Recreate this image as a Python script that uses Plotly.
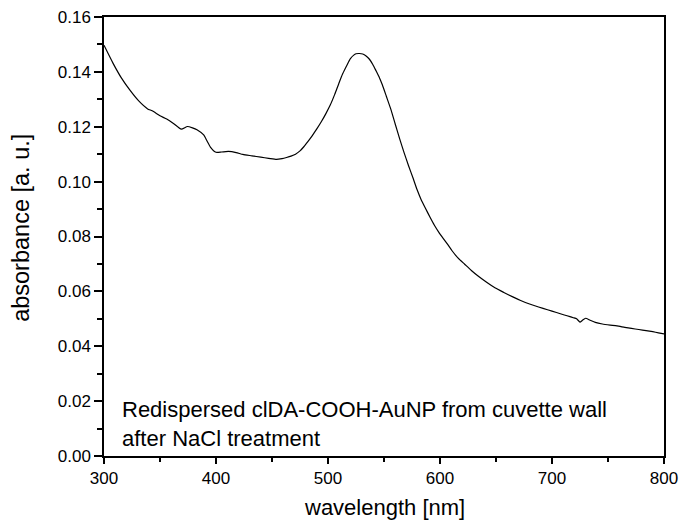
import plotly.graph_objects as go

wavelength = [300, 308, 315.5, 323, 331, 339, 343, 350, 356, 362, 369, 374.5, 379, 383, 389, 392, 395, 400,
              405, 411, 418, 424, 432, 440, 447, 454, 459, 463, 467, 471, 475, 478.6, 482, 486, 490, 494,
              498, 502, 506, 509.6, 513, 517, 520, 523, 525, 528, 531, 534, 537, 540, 543, 546, 548.5,
              552, 556, 560, 564, 568, 572, 576, 579.5, 583, 587, 591, 595, 599, 603, 607, 610.6, 616, 622,
              628, 634, 641, 649, 657, 665, 672, 680, 688, 696, 704, 711, 716, 719, 722, 725, 727, 730,
              734, 738.7, 745, 752, 758, 765, 771, 777.5, 784, 790, 795, 800]
absorbance = [0.1497, 0.1432, 0.1378, 0.1334, 0.1294, 0.1265, 0.1258, 0.1240, 0.1228, 0.1212, 0.1191, 0.1201,
              0.1196, 0.1189, 0.1170, 0.1148, 0.1126, 0.1107, 0.1108, 0.1110, 0.1106, 0.1099, 0.1094,
              0.1089, 0.1085, 0.1081, 0.1084, 0.1088, 0.1093, 0.1100, 0.1112, 0.1128, 0.1146, 0.1168,
              0.1192, 0.1218, 0.1247, 0.1279, 0.1318, 0.1357, 0.1392, 0.1425, 0.1448, 0.1461, 0.1466,
              0.1467, 0.1465, 0.1458, 0.1446, 0.1427, 0.1403, 0.1378, 0.1353, 0.1312, 0.1265, 0.1210,
              0.1156, 0.1105, 0.1057, 0.1012, 0.0971, 0.0936, 0.0903, 0.0871, 0.0841, 0.0815, 0.0792,
              0.0770, 0.0749, 0.0722, 0.0699, 0.0676, 0.0656, 0.0635, 0.0613, 0.0596, 0.0580, 0.0567,
              0.0554, 0.0543, 0.0533, 0.0523, 0.0514, 0.0508, 0.0504, 0.0500, 0.0488, 0.0494, 0.0502,
              0.0495, 0.0487, 0.0481, 0.0477, 0.0474, 0.0469, 0.0465, 0.0461, 0.0457, 0.0453, 0.0449,
              0.0445]

x_ticks = [300, 400, 500, 600, 700, 800]
y_ticks = [0.00, 0.02, 0.04, 0.06, 0.08, 0.10, 0.12, 0.14, 0.16]

FONT = "Liberation Sans, Arial, sans-serif"

fig = go.Figure()
fig.add_trace(go.Scatter(x=wavelength, y=absorbance, mode="lines",
                         line=dict(color="black", width=1.2, shape="spline", smoothing=0.5),
                         showlegend=False))

fig.update_layout(
    width=681, height=531,
    margin=dict(l=104, r=17, t=17, b=75),
    paper_bgcolor="white", plot_bgcolor="white",
    font=dict(family=FONT, color="black", size=17),
)
fig.update_xaxes(
    range=[300, 800], tickvals=x_ticks, ticks="outside", ticklen=6, tickwidth=1.5, automargin=False,
    ticklabeloverflow="allow",
    showline=True, linecolor="black", linewidth=1.5, mirror=True, showgrid=False, zeroline=False,
    minor=dict(dtick=50, tick0=300, ticks="outside", ticklen=4, tickwidth=1.5, tickcolor="black", showgrid=False),
    tickcolor="black", tickfont=dict(size=17),
)
fig.update_yaxes(
    range=[0, 0.16], tickvals=y_ticks, tickformat=".2f", ticks="outside", ticklen=8, tickwidth=1.5,
    automargin=False, ticklabeloverflow="allow",
    showline=True, linecolor="black", linewidth=1.5, mirror=True, showgrid=False, zeroline=False,
    minor=dict(dtick=0.01, tick0=0, ticks="outside", ticklen=5, tickwidth=1.5, tickcolor="black", showgrid=False),
    tickcolor="black", tickfont=dict(size=17),
)
fig.add_annotation(
    xref="paper", yref="paper", x=0.5, y=-0.118, xanchor="center", yanchor="middle",
    text="wavelength [nm]", showarrow=False, font=dict(family=FONT, size=22, color="black"),
)
fig.add_annotation(
    xref="paper", yref="paper", x=-0.148, y=0.52, xanchor="center", yanchor="middle",
    text="absorbance [a. u.]", textangle=-90, showarrow=False,
    font=dict(family=FONT, size=23.5, color="black"),
)
fig.add_annotation(
    xref="paper", yref="paper", x=0.0286, y=0.073, xanchor="left", yanchor="middle",
    text="Redispersed clDA-COOH-AuNP from cuvette wall<br>after NaCl treatment",
    showarrow=False, align="left", font=dict(family=FONT, size=22, color="black"),
)

# remove the default page margin so the 681x531 figure fills the window exactly
fig.write_html("out.html",
               config={"displayModeBar": False},
               post_script="document.body.style.margin='0';document.body.style.overflow='hidden';")
